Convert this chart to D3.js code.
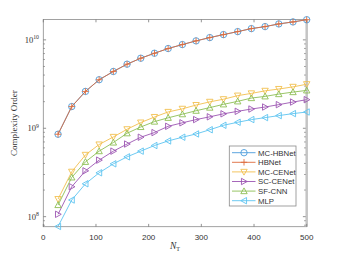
<!DOCTYPE html>
<html>
<head>
<meta charset="utf-8">
<script src="https://cdn.jsdelivr.net/npm/d3@7"></script>
<style>
body { margin: 0; background: #fff; }
svg { display: block; }
</style>
</head>
<body>
<svg id="chart" width="339" height="255"></svg>
<script>
// x values (N_T)
var nT = [28, 54, 80, 106, 133, 159, 185, 211, 237, 264, 290, 316, 342, 369, 395, 421, 447, 474, 500];

// complexity per model
var mcHBNet = [8.56e8, 1.76e9, 2.61e9, 3.54e9, 4.39e9, 5.31e9, 6.20e9, 7.06e9, 7.98e9, 8.85e9, 9.74e9, 1.061e10, 1.147e10, 1.24e10, 1.341e10, 1.413e10, 1.515e10, 1.596e10, 1.69e10];
var hBNet = mcHBNet.slice();
var mcCENet = [1.58e8, 3.22e8, 5.0e8, 6.55e8, 7.98e8, 9.74e8, 1.16e9, 1.34e9, 1.53e9, 1.66e9, 1.83e9, 1.99e9, 2.13e9, 2.34e9, 2.48e9, 2.65e9, 2.78e9, 2.94e9, 3.15e9];
var scCENet = [1.064e8, 2.18e8, 3.30e8, 4.36e8, 5.51e8, 6.63e8, 7.92e8, 8.94e8, 1.053e9, 1.153e9, 1.254e9, 1.348e9, 1.457e9, 1.555e9, 1.651e9, 1.739e9, 1.85e9, 1.98e9, 2.106e9];
var sfCNN = [1.355e8, 2.78e8, 4.17e8, 5.51e8, 6.9e8, 8.78e8, 1.034e9, 1.19e9, 1.313e9, 1.442e9, 1.579e9, 1.712e9, 1.865e9, 2.016e9, 2.196e9, 2.295e9, 2.436e9, 2.566e9, 2.682e9];
var mlp = [7.75e7, 1.543e8, 2.355e8, 3.135e8, 3.96e8, 4.75e8, 5.51e8, 6.38e8, 7.19e8, 7.92e8, 8.62e8, 9.62e8, 1.081e9, 1.169e9, 1.254e9, 1.32e9, 1.391e9, 1.465e9, 1.527e9];

var seriesNames = ["MC-HBNet", "HBNet", "MC-CENet", "SC-CENet", "SF-CNN", "MLP"];
var xTicks = [0, 100, 200, 300, 400, 500];
var yTicks = [1e8, 1e9, 1e10];
var yExps = ["8", "9", "10"];

var seriesData = [mcHBNet, hBNet, mcCENet, scCENet, sfCNN, mlp];
var colors = ["#4B9CDB", "#DE6B3C", "#F2C04F", "#9C56B2", "#8DBE55", "#5EC4F0"];
var shapes = ["circle", "plus", "down", "right", "up", "left"];

var serif = "'Liberation Serif', 'Times New Roman', serif";
var sans = "'Liberation Sans', Arial, sans-serif";

// plot box (window.top is read-only, so prefix the names)
var pLeft = 43.3, pRight = 306.7, pTop = 19.5, pBottom = 226.7;

var svg = d3.select("#chart");

var x = d3.scaleLinear().domain([0, 500]).range([pLeft, pRight]);
var y = d3.scaleLog().domain([7.7e7, 1.7e10]).range([pBottom, pTop]);

// marker path for a shape, centred on 0,0
function markerPath(shape) {
	var r = 3.2;
	if (shape == "plus") return "M" + (-r) + ",0H" + r + "M0," + (-r) + "V" + r;
	if (shape == "up") return "M0," + (-r) + "L" + r + "," + (r * 0.8) + "L" + (-r) + "," + (r * 0.8) + "Z";
	if (shape == "down") return "M0," + r + "L" + r + "," + (-r * 0.8) + "L" + (-r) + "," + (-r * 0.8) + "Z";
	if (shape == "right") return "M" + r + ",0L" + (-r * 0.8) + "," + (-r) + "L" + (-r * 0.8) + "," + r + "Z";
	if (shape == "left") return "M" + (-r) + ",0L" + (r * 0.8) + "," + (-r) + "L" + (r * 0.8) + "," + r + "Z";
	return d3.arc()({innerRadius: 0, outerRadius: r, startAngle: 0, endAngle: 2 * Math.PI});
}

// axis box
svg.append("rect")
	.attr("x", pLeft).attr("y", pTop)
	.attr("width", pRight - pLeft).attr("height", pBottom - pTop)
	.style("fill", "none")
	.style("stroke", "#8a8a8a")
	.style("stroke-width", "0.8px");
svg.append("line")
	.attr("x1", pRight).attr("x2", pRight)
	.attr("y1", pTop).attr("y2", pBottom)
	.style("stroke", "#c4c4c4")
	.style("stroke-width", "2.5px");

// x ticks (inward, top and bottom)
var xt = svg.append("g");
xTicks.forEach(function (t) {
	xt.append("line").attr("x1", x(t)).attr("x2", x(t)).attr("y1", pBottom).attr("y2", pBottom - 2.8)
		.style("stroke", "#777").style("stroke-width", "0.8px");
	xt.append("line").attr("x1", x(t)).attr("x2", x(t)).attr("y1", pTop).attr("y2", pTop + 2.8)
		.style("stroke", "#777").style("stroke-width", "0.8px");
	xt.append("text")
		.attr("x", x(t)).attr("y", 239.5)
		.attr("text-anchor", "middle")
		.style("font-family", sans).style("font-size", "8px").style("fill", "#333")
		.text(t);
});

// y ticks: majors + log minors
var yt = svg.append("g");
var minors = [];
[1e7, 1e8, 1e9, 1e10].forEach(function (d) {
	for (var k = 1; k < 10; k++) {
		var v = d * k;
		if (v >= y.domain()[0] && v <= y.domain()[1]) minors.push({v: v, major: k == 1});
	}
});
minors.forEach(function (m) {
	var len = m.major ? 2.8 : 1.5;
	yt.append("line").attr("x1", pLeft).attr("x2", pLeft + len).attr("y1", y(m.v)).attr("y2", y(m.v))
		.style("stroke", "#777").style("stroke-width", "0.8px");
	yt.append("line").attr("x1", pRight - 1).attr("x2", pRight - 1 - len).attr("y1", y(m.v)).attr("y2", y(m.v))
		.style("stroke", "#777").style("stroke-width", "0.8px");
});
yTicks.forEach(function (t, i) {
	var lab = yt.append("text")
		.attr("x", 39).attr("y", y(t) + 3)
		.attr("text-anchor", "end")
		.style("font-family", serif).style("font-size", "8.5px").style("fill", "#333");
	lab.append("tspan").text("10");
	lab.append("tspan").attr("dy", -3.5).style("font-size", "5.8px").text(yExps[i]);
});

// axis labels
svg.append("text")
	.attr("transform", "translate(17," + ((pTop + pBottom) / 2) + ") rotate(-90)")
	.attr("text-anchor", "middle")
	.style("font-family", serif).style("font-size", "9px").style("fill", "#333")
	.text("Complexity Order");
var xl = svg.append("text")
	.attr("x", 175).attr("y", 249)
	.attr("text-anchor", "middle")
	.style("font-family", serif).style("font-size", "9.5px").style("fill", "#333");
xl.append("tspan").style("font-style", "italic").text("N");
xl.append("tspan").attr("dy", 2).style("font-size", "6px").text("T");

// lines and markers
var line = d3.line()
	.x(function (d) { return x(d.n); })
	.y(function (d) { return y(d.v); });

seriesData.forEach(function (vals, s) {
	var pts = vals.map(function (v, i) { return {n: nT[i], v: v}; });
	var g = svg.append("g");
	g.append("path")
		.attr("d", line(pts))
		.style("fill", "none")
		.style("stroke", colors[s])
		.style("stroke-width", "0.9px");
	g.selectAll("path.mk").data(pts).enter().append("path")
		.attr("class", "mk")
		.attr("d", markerPath(shapes[s]))
		.attr("transform", function (d) { return "translate(" + x(d.n) + "," + y(d.v) + ")"; })
		.style("fill", "none")
		.style("stroke", colors[s])
		.style("stroke-width", "0.9px");
});

// legend
var lg = svg.append("g");
lg.append("rect")
	.attr("x", 229.3).attr("y", 146)
	.attr("width", 66.7).attr("height", 60)
	.style("fill", "#fff")
	.style("stroke", "#8a8a8a")
	.style("stroke-width", "0.8px");
seriesNames.forEach(function (name, i) {
	var yy = 152.7 + i * 9.6;
	lg.append("line").attr("x1", 232).attr("x2", 255.5).attr("y1", yy).attr("y2", yy)
		.style("stroke", colors[i]).style("stroke-width", "0.9px");
	lg.append("path")
		.attr("d", markerPath(shapes[i]))
		.attr("transform", "translate(244," + yy + ")")
		.style("fill", "none").style("stroke", colors[i]).style("stroke-width", "0.9px");
	lg.append("text")
		.attr("x", 258).attr("y", yy + 2.8)
		.style("font-family", sans).style("font-size", "7.8px").style("fill", "#333")
		.text(name);
});
</script>
</body>
</html>
